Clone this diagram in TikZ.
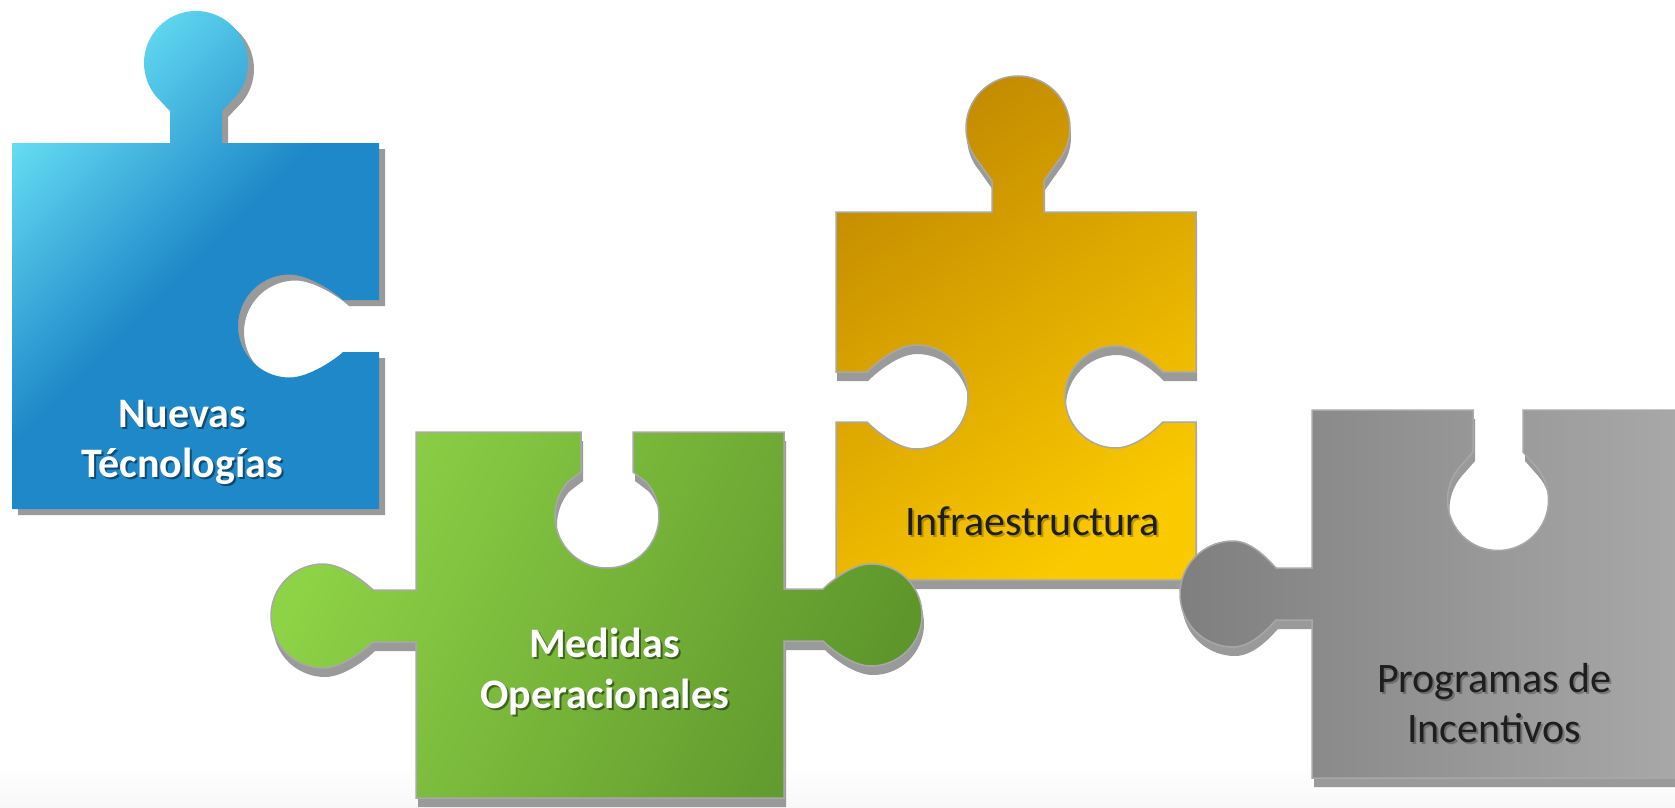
\documentclass[tikz,border=0pt]{standalone}
\usepackage{fontspec}
\setmainfont{Carlito}
\definecolor{bA}{HTML}{66DEF3}
\definecolor{bB}{HTML}{1F88C8}
\definecolor{gA}{HTML}{8ED246}
\definecolor{gB}{HTML}{5E962C}
\definecolor{yA}{HTML}{C38B00}
\definecolor{yB}{HTML}{FBC900}
\definecolor{kA}{HTML}{7F7F7F}
\definecolor{kB}{HTML}{A9A9A9}
\definecolor{shadowcol}{HTML}{9A9A9A}
\definecolor{outlinecol}{HTML}{A8A8A8}
\definecolor{darktext}{HTML}{1E1E1E}
\definecolor{bandcol}{HTML}{F8F8F8}
\pgfdeclarehorizontalshading{pzBlue}{100bp}{color(0bp)=(bA); color(25bp)=(bA); color(50bp)=(bB); color(100bp)=(bB)}
\pgfdeclarehorizontalshading{pzGreen}{100bp}{color(0bp)=(gA); color(25bp)=(gA); color(75bp)=(gB); color(100bp)=(gB)}
\pgfdeclarehorizontalshading{pzYellow}{100bp}{color(0bp)=(yA); color(25bp)=(yA); color(75bp)=(yB); color(100bp)=(yB)}
\pgfdeclarehorizontalshading{pzGray}{100bp}{color(0bp)=(kA); color(25bp)=(kA); color(75bp)=(kB); color(100bp)=(kB)}
% teardrop connector: #1 X, #2 Y, #3 travel angle, #4 side (1 tab, -1 hole), #5 half neck, #6 neck length, #7 centre distance, #8 radius
\newcommand\tear[8]{%
 -- ({PX(#1,#3,#4,-(#5),0)},{PY(#2,#3,#4,-(#5),0)})
 -- ({PX(#1,#3,#4,-(#5),#6)},{PY(#2,#3,#4,-(#5),#6)})
 -- plot[domain=50:310,samples=53,variable=\p] ({PX(#1,#3,#4,-(#8)*sin(\p),(#7)-(#8)*cos(\p))},{PY(#2,#3,#4,-(#8)*sin(\p),(#7)-(#8)*cos(\p))})
 -- ({PX(#1,#3,#4,#5,#6)},{PY(#2,#3,#4,#5,#6)})
 -- ({PX(#1,#3,#4,#5,0)},{PY(#2,#3,#4,#5,0)})
}
% shoulder connector, same arguments
\newcommand\shoulder[8]{%
 -- ({PX(#1,#3,#4,-(#5),0)},{PY(#2,#3,#4,-(#5),0)})
 -- ({PX(#1,#3,#4,-(#5),#6)},{PY(#2,#3,#4,-(#5),#6)})
 .. controls ({PX(#1,#3,#4,-(#5)-6,(#6)+6)},{PY(#2,#3,#4,-(#5)-6,(#6)+6)})
 and ({PX(#1,#3,#4,-(#8),(#7)-20)},{PY(#2,#3,#4,-(#8),(#7)-20)})
 .. ({PX(#1,#3,#4,-(#8),#7)},{PY(#2,#3,#4,-(#8),#7)})
 -- plot[domain=90:270,samples=37,variable=\p] ({PX(#1,#3,#4,-(#8)*sin(\p),(#7)-(#8)*cos(\p))},{PY(#2,#3,#4,-(#8)*sin(\p),(#7)-(#8)*cos(\p))})
 .. controls ({PX(#1,#3,#4,#8,(#7)-20)},{PY(#2,#3,#4,#8,(#7)-20)})
 and ({PX(#1,#3,#4,(#5)+6,(#6)+6)},{PY(#2,#3,#4,(#5)+6,(#6)+6)})
 .. ({PX(#1,#3,#4,#5,#6)},{PY(#2,#3,#4,#5,#6)})
 -- ({PX(#1,#3,#4,#5,0)},{PY(#2,#3,#4,#5,0)})
}
\newcommand\bluepath{(12,143) \tear{196}{143}{0}{1}{26}{32}{80}{52} -- (379,143) \shoulder{379}{326}{90}{-1}{26}{36}{89.5}{51.5} -- (379,509) -- (12,509) -- cycle}
\newcommand\greenpath{(416,432) \tear{607}{432}{0}{-1}{26}{40}{84}{52} -- (784,432) \shoulder{784}{615}{90}{1}{26}{39}{87}{51} -- (784,798) -- (416,798) \shoulder{416}{616}{270}{1}{26}{43}{93}{52} -- cycle}
\newcommand\yellowpath{(836,212) \tear{1018}{212}{0}{1}{26}{31}{84}{52} -- (1196,212) \shoulder{1196}{397}{90}{-1}{25}{33}{80}{51} -- (1196,580) -- (836,580) \shoulder{836}{397}{270}{-1}{25}{31}{80}{52} -- cycle}
\newcommand\graypath{(1312,410) \tear{1498}{410}{0}{-1}{25}{42}{90}{50.5} -- (1690,410) -- (1690,778) -- (1312,778) \shoulder{1312}{594}{270}{1}{26}{36}{79}{53} -- cycle}
\begin{document}
\begin{tikzpicture}[x=1pt,y=-1pt,
  declare function={PX(\xa,\ta,\sa,\wa,\da)=\xa+\wa*cos(\ta)+\da*\sa*sin(\ta);
                    PY(\ya,\ta,\sa,\wa,\da)=\ya+\wa*sin(\ta)-\da*\sa*cos(\ta);},
  pshadow/.style={fill=shadowcol},
  pedge/.style={draw=outlinecol,line width=1.5pt},
  wtxt/.style={font=\fontsize{42}{50}\selectfont\bfseries,text=white,anchor=base,inner sep=0pt},
  dtxt/.style={font=\fontsize{42}{50}\selectfont,text=darktext,anchor=base,inner sep=0pt},
  wshad/.style={font=\fontsize{42}{50}\selectfont\bfseries,text=black,text opacity=0.45,anchor=base,inner sep=0pt},
  dshad/.style={font=\fontsize{42}{50}\selectfont,text=black,text opacity=0.25,anchor=base,inner sep=0pt}]
\useasboundingbox (0,0) rectangle (1675,808);
\fill[white] (0,0) rectangle (1675,808);
\shade[top color=white,bottom color=bandcol] (0,765) rectangle (1675,808);
% yellow piece
\fill[pshadow,shift={(1,9)}] \yellowpath;
\shadedraw[shading=pzYellow,shading angle=-55,pedge] \yellowpath;
% blue piece
\fill[pshadow,shift={(6,6)}] \bluepath;
\shade[shading=pzBlue,shading angle=-45] \bluepath;
% green piece
\fill[pshadow,shift={(2,9)}] \greenpath;
\shadedraw[shading=pzGreen,shading angle=-25,pedge] \greenpath;
% gray piece
\fill[pshadow,shift={(2,9)}] \graypath;
\shadedraw[shading=pzGray,shading angle=0,pedge] \graypath;
% texts
\node[wshad] (t1s) at (184,429.5) {Nuevas};
\node[wtxt] (t1) at (182,427) {Nuevas};
\node[wshad] (t2s) at (184,479.5) {Técnologías};
\node[wtxt] (t2) at (182,477) {Técnologías};
\node[wshad] (t3s) at (606.5,659.5) {Medidas};
\node[wtxt] (t3) at (604.5,657) {Medidas};
\node[wshad] (t4s) at (606.5,710.5) {Operacionales};
\node[wtxt] (t4) at (604.5,708) {Operacionales};
\node[dshad] (t5s) at (1034.5,537.5) {Infraestructura};
\node[dtxt] (t5) at (1032.5,535) {Infraestructura};
\node[dshad] (t6s) at (1496,694.5) {Programas de};
\node[dtxt] (t6) at (1494,692) {Programas de};
\node[dshad] (t7s) at (1496,744.5) {Incentivos};
\node[dtxt] (t7) at (1494,742) {Incentivos};
\end{tikzpicture}
\end{document}
